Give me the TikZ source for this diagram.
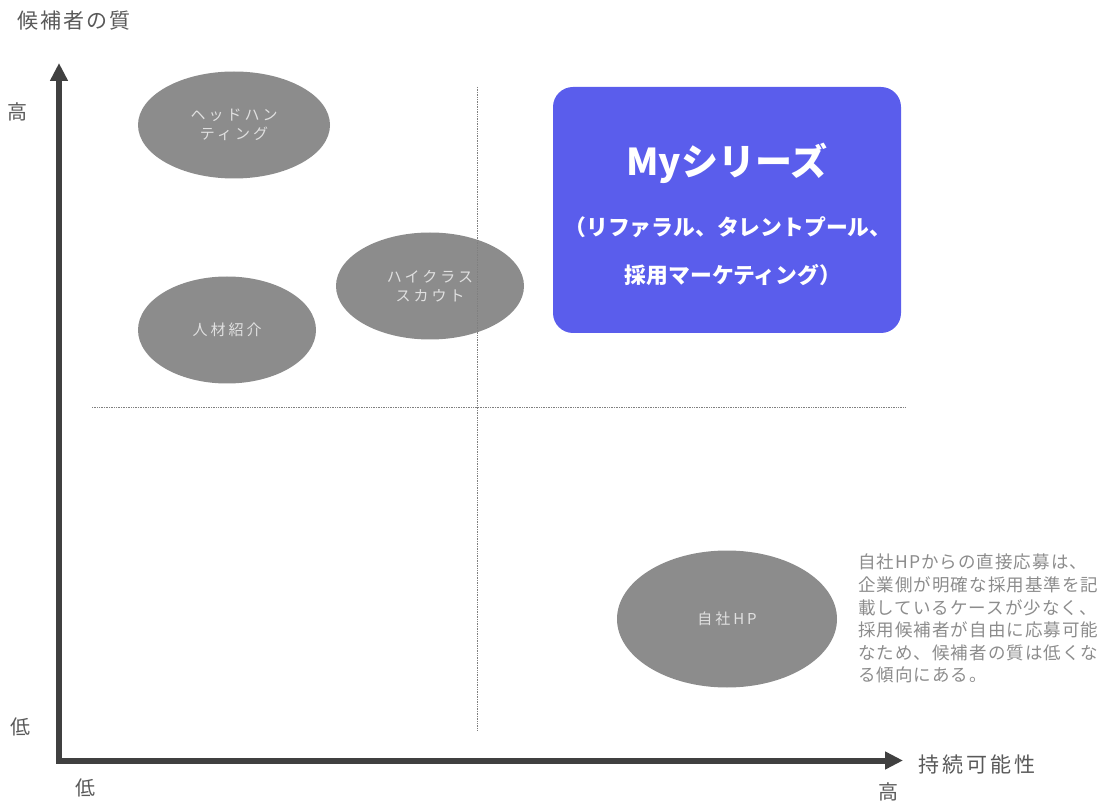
\documentclass[tikz,border=0pt]{standalone}
\usepackage{fontspec}
\setmainfont{Noto Sans CJK JP}
\usetikzlibrary{arrows.meta, positioning, shapes.geometric}
\definecolor{axisgray}{HTML}{404040}
\definecolor{bubblegray}{HTML}{8C8C8C}
\definecolor{labelgray}{HTML}{595959}
\definecolor{notegray}{HTML}{8C8C8C}
\definecolor{seriesblue}{HTML}{5A5DEC}
\tikzset{
  bubble/.style={ellipse, fill=bubblegray, inner sep=0pt, align=center,
                 text=white!88!black, font=\fontsize{15}{19}\selectfont\addfontfeatures{LetterSpace=20}},
  axis/.style={line width=6pt, draw=axisgray, -{Triangle[length=18pt,width=17pt]}},
  guide/.style={densely dotted, draw=gray, line width=0.7pt},
  axlabel/.style={text=labelgray, inner sep=0pt, font=\fontsize{20}{24}\selectfont},
  wide/.style={font=\fontsize{21}{24}\selectfont\addfontfeatures{LetterSpace=#1}},
}

\begin{document}
\begin{tikzpicture}[x=1pt, y=-1pt]
  \useasboundingbox (0,0) rectangle (1104,802);

  % axes
  \coordinate (orig) at (59,760.5);
  \coordinate (ybase) at (59,763.5);
  \coordinate (xbase) at (56,760.5);
  \coordinate (ytip) at (59,63);
  \coordinate (xtip) at (903,760.5);
  \draw[axis] (ybase) -- (ytip);
  \draw[axis] (xbase) -- (xtip);

  \node[axlabel, wide=10, anchor=west] (qual) at (17,21) {候補者の質};
  \node[axlabel] (qhigh) at (18,112) {高};
  \node[axlabel] (qlow)  at (20,727) {低};
  \node[axlabel] (slow)  at (85,788) {低};
  \node[axlabel] (shigh) at (888,792) {高};
  \node[axlabel, wide=15, anchor=west] (sust) at (918,765) {持続可能性};

  % bubbles
  \node[bubble, minimum width=192pt, minimum height=107pt] (head)  at (234,125) {ヘッドハン\\ティング};
  \node[bubble, minimum width=178pt, minimum height=107pt] (agent) at (227,330) {人材紹介};
  \node[bubble, minimum width=188pt, minimum height=107pt] (scout) at (430,286) {ハイクラス\\スカウト};
  \node[bubble, minimum width=220pt, minimum height=137pt] (ownhp) at (727,619) {自社HP};

  % quadrant guides
  \coordinate (vtop) at (477,87);
  \coordinate (vbot) at (477,730);
  \coordinate (hleft) at (92,407);
  \coordinate (hright) at (906,407);
  \draw[guide] (vtop) -- (vbot);
  \draw[guide] (hleft) -- (hright);

  % my series box
  \node[rectangle, rounded corners=20pt, fill=seriesblue, minimum width=348pt,
        minimum height=246pt] (mybox) at (727,210) {};
  \node[text=white, font=\bfseries\fontsize{37}{40}\selectfont] (mytitle) at (727,163) {Myシリーズ};
  \node[text=white, font=\bfseries\fontsize{21.8}{24}\selectfont] (mysub1) at (728,227) {（リファラル、タレントプール、};
  \node[text=white, font=\bfseries\fontsize{21.8}{24}\selectfont] (mysub2) at (733,275) {採用マーケティング）};

  % note
  \node[anchor=north west, inner sep=0pt, align=left, text=notegray,
        font=\fontsize{17.5}{22.6}\selectfont\addfontfeatures{LetterSpace=6}] (note) at (858,554)
    {自社HPからの直接応募は、\\企業側が明確な採用基準を記\\載しているケースが少なく、\\採用候補者が自由に応募可能\\なため、候補者の質は低くな\\る傾向にある。};
\end{tikzpicture}
\end{document}
